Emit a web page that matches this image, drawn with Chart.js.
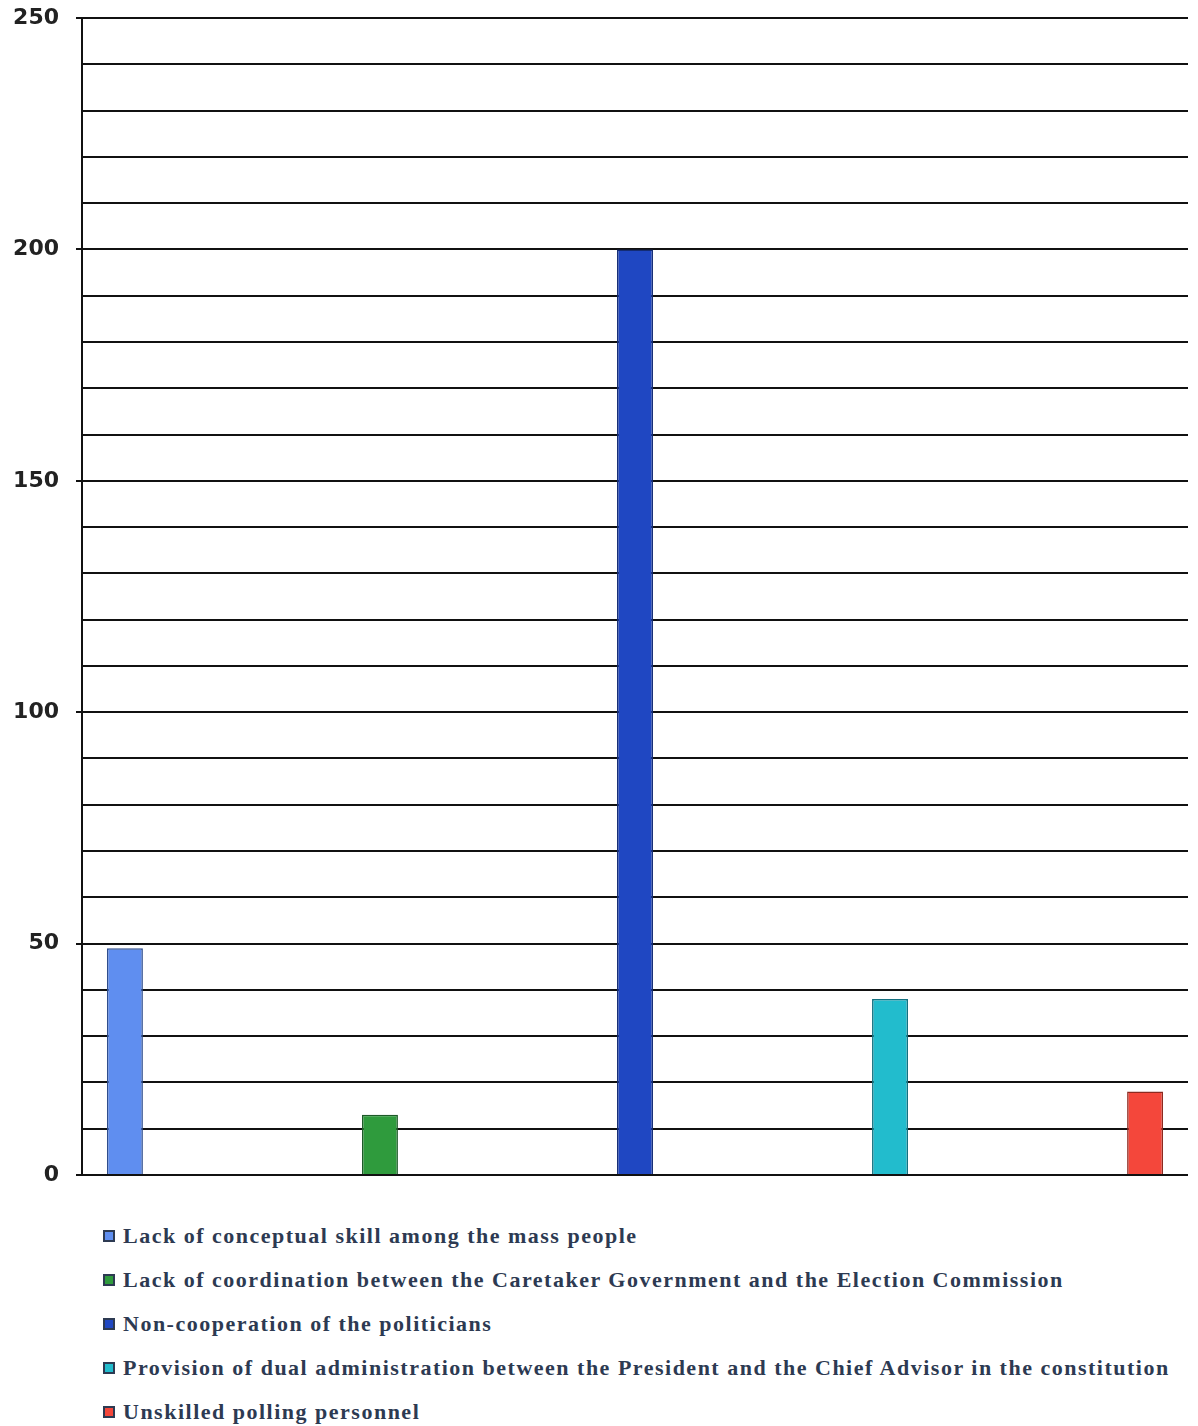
<!DOCTYPE html>
<html>
<head>
<meta charset="utf-8">
<script src="https://cdn.jsdelivr.net/npm/chart.js@4"></script>
<style>
    body { margin: 0; background: #fff; }
    #wrap { position: relative; width: 1198px; height: 1193px; }
    #legend { margin: 21px 0 0 103px; padding: 0; list-style: none; }
    #legend li {
        font-family: "Liberation Serif", "DejaVu Serif", serif;
        font-weight: bold;
        font-size: 22px;
        letter-spacing: 1.5px;
        color: #2d3a52;
        height: 44px;
        display: flex;
        align-items: center;
    }
    #legend span.box {
        width: 12px;
        height: 12px;
        border: 2px solid #2d3a52;
        margin-right: 8px;
        box-sizing: border-box;
    }
</style>
</head>
<body>
<div id="wrap"><canvas id="reportChart"></canvas></div>
<ul id="legend"></ul>
<script>
const seriesNames = [
    "Lack of conceptual skill among the mass people",
    "Lack of coordination between the Caretaker Government and the Election Commission",
    "Non-cooperation of the politicians",
    "Provision of dual administration between the President and the Chief Advisor in the constitution",
    "Unskilled polling personnel"
]
const seriesValues = [49, 13, 200, 38, 18]
const fillColors = ["#5f8ef0", "#2f9b3d", "#1f47c2", "#22bccd", "#f4473b"]
const edgeColors = ["#2f4d8c", "#1d5a28", "#142c74", "#137080", "#8c2a20"]
const labeledTicks = [0, 50, 100, 150, 200, 250]

const chartCtx = document.getElementById("reportChart")

const datasets = seriesNames.map((name, i) => ({
    label: name,
    data: [seriesValues[i]],
    backgroundColor: fillColors[i],
    borderColor: edgeColors[i],
    borderWidth: 1.5
}))

new Chart(chartCtx, {
    type: "bar",
    data: { labels: [""], datasets },
    options: {
        responsive: true,
        maintainAspectRatio: false,
        animation: false,
        categoryPercentage: 1.153,
        barPercentage: 0.141,
        layout: { padding: { top: 18, right: 10, bottom: 0, left: 6 } },
        plugins: {
            legend: { display: false },
            tooltip: { enabled: false }
        },
        scales: {
            x: { display: false },
            y: {
                min: 0,
                max: 250,
                ticks: {
                    stepSize: 10,
                    autoSkip: false,
                    padding: 17,
                    color: "#222",
                    font: { family: "DejaVu Sans", weight: "bold", size: 22, lineHeight: 0.1 },
                    callback: (value) => labeledTicks.includes(value) ? String(value) : ""
                },
                grid: {
                    color: "#111",
                    lineWidth: 2,
                    tickLength: 6,
                    tickColor: (ctx) => labeledTicks.includes(ctx.tick.value) ? "#111" : "rgba(0,0,0,0)"
                },
                border: { color: "#111", width: 2 },
                afterFit: (scale) => { scale.width = 76 }
            }
        }
    }
})

const legend = document.getElementById("legend")
seriesNames.forEach((name, i) => {
    const item = document.createElement("li")
    const box = document.createElement("span")
    box.className = "box"
    box.style.background = fillColors[i]
    item.appendChild(box)
    item.appendChild(document.createTextNode(name))
    legend.appendChild(item)
})
</script>
</body>
</html>
